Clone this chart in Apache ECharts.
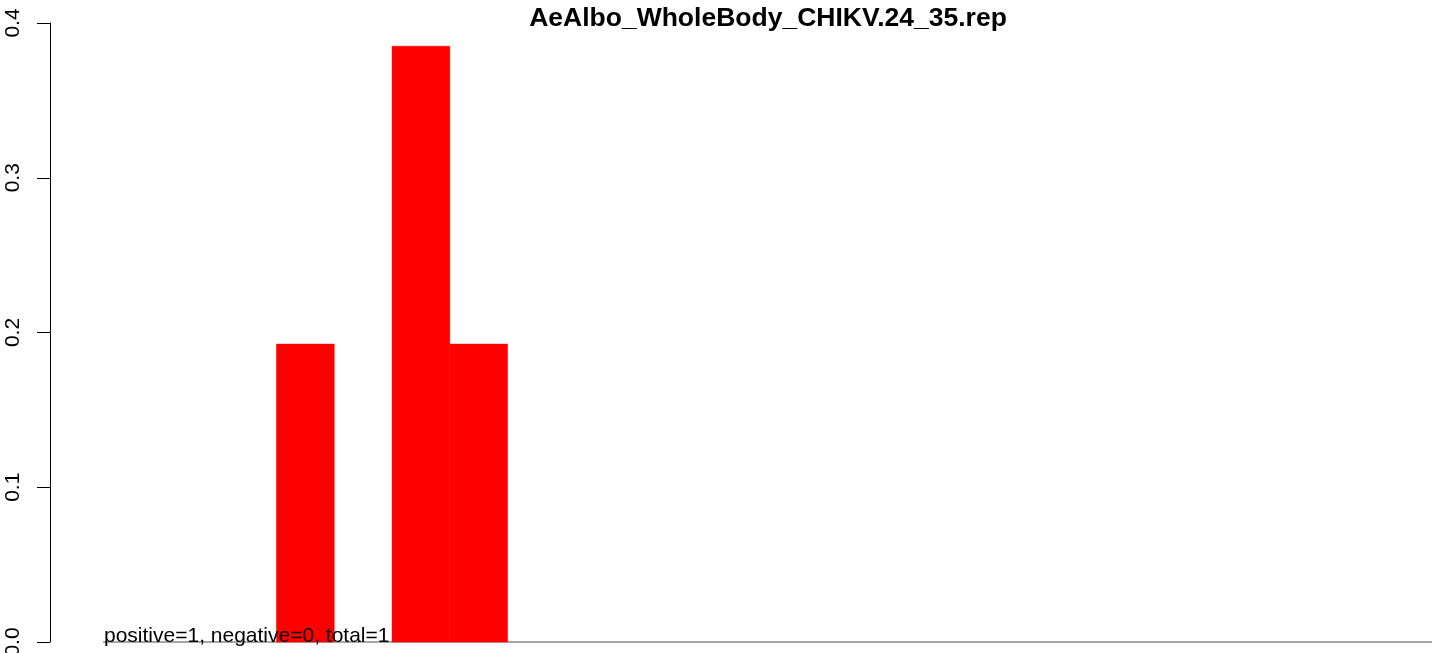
<!DOCTYPE html>
<html>
<head>
<meta charset="utf-8">
<script src="https://cdn.jsdelivr.net/npm/echarts@6/dist/echarts.min.js"></script>
<style>html,body{margin:0;padding:0;background:#fff}#c{width:1444px;height:653px}</style>
</head>
<body>
<div id="c"></div>
<script>
// Data
var chartTitle = "AeAlbo_WholeBody_CHIKV.24_35.rep";
var binStarts = [3, 5, 6];          // left edge of each non-empty bin (bin width 1)
var densities = [0.1925, 0.385, 0.1925];
var binWidth = 1;
var xRange = [0, 23];               // extent of the baseline
var yTicks = [0, 0.1, 0.2, 0.3, 0.4];
var note = "positive=1, negative=0, total=1";

var FONT = "Liberation Sans, Arial, sans-serif";
var chart = echarts.init(document.getElementById('c'), null, {renderer: 'canvas'});

var barData = binStarts.map(function (s, i) { return [s, s + binWidth, densities[i]]; });
var ext = (xRange[1] - xRange[0]) * 0.04;

chart.setOption({
  animation: false,
  backgroundColor: '#ffffff',
  title: {
    text: chartTitle,
    left: 763,
    textAlign: 'center',
    top: 0,
    textStyle: {fontFamily: FONT, fontWeight: 'bold', fontSize: 26.5, color: '#000'}
  },
  grid: {left: 50, right: 12, top: 23, bottom: 11, containLabel: false, outerBoundsMode: 'none'},
  xAxis: {
    type: 'value', min: xRange[0] - ext, max: xRange[1],
    show: false
  },
  yAxis: {
    type: 'value', min: yTicks[0], max: yTicks[yTicks.length - 1], interval: 0.1,
    axisLine: {show: true, onZero: false, lineStyle: {color: '#000', width: 1}},
    axisTick: {show: true, length: 13, lineStyle: {color: '#000', width: 1}},
    splitLine: {show: false},
    axisLabel: {
      rotate: 90, margin: 26, color: '#000', fontFamily: FONT, fontSize: 21,
      formatter: function (v) { return v.toFixed(1); }
    }
  },
  series: [
    {
      type: 'line',
      data: [[xRange[0], 0], [xRange[1], 0]],
      symbol: 'none',
      lineStyle: {color: '#a6a6a6', width: 2},
      z: 1,
      silent: true
    },
    {
      type: 'custom',
      z: 2,
      data: barData,
      encode: {x: [0, 1], y: 2},
      renderItem: function (params, api) {
        var p0 = api.coord([api.value(0), 0]);
        var p1 = api.coord([api.value(1), api.value(2)]);
        return {
          type: 'rect',
          shape: {x: p0[0], y: p1[1], width: p1[0] - p0[0], height: p0[1] - p1[1]},
          style: {fill: '#ff0000', stroke: '#ff0000', lineWidth: 0.5}
        };
      }
    }
  ],
  graphic: [{
    type: 'text',
    left: 104,
    top: 626,
    z: 100,
    style: {text: note, fill: '#000', font: '21px ' + FONT}
  }]
});
</script>
</body>
</html>
